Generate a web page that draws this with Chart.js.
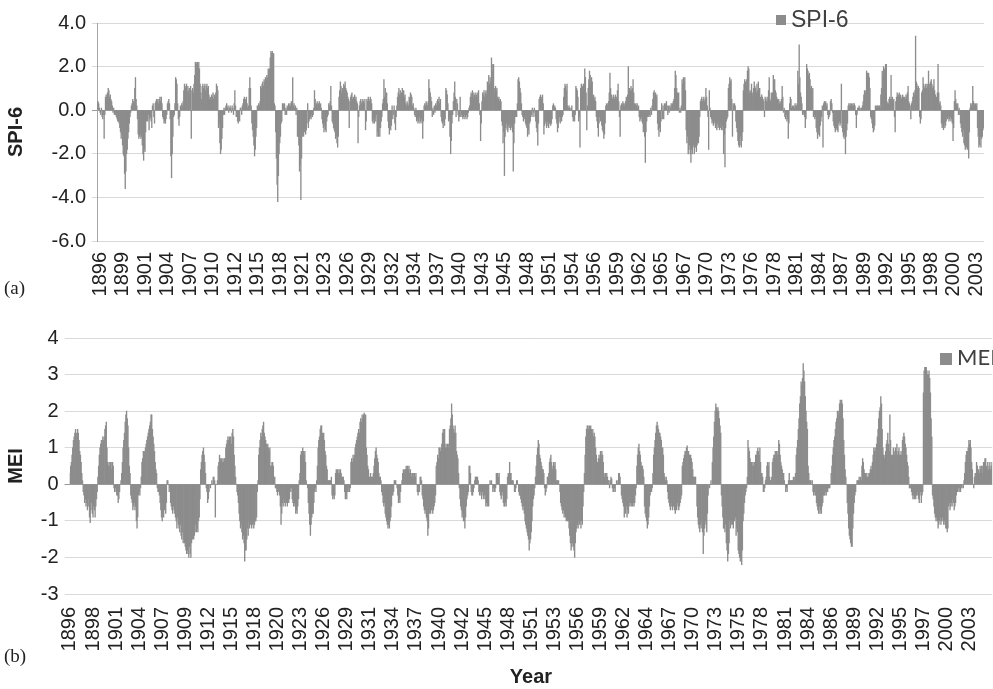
<!DOCTYPE html>
<html>
<head>
<meta charset="utf-8">
<script src="https://cdn.jsdelivr.net/npm/chart.js@4.4.1/dist/chart.umd.min.js"></script>
<style>
body { margin: 0; background: #fff; }
#wrap { position: relative; width: 993px; height: 689px; overflow: hidden; background: #fff; }
canvas { position: absolute; left: 0; }
.sq { position: absolute; background: #8c8c8c; }
.lg { position: absolute; line-height: 1; color: #404040; white-space: nowrap; font-family: "Liberation Sans", Arial, sans-serif; }
.pl { position: absolute; font-family: "Liberation Serif", "Times New Roman", serif; font-size: 19px; line-height: 1; color: #222; }
</style>
</head>
<body>
<div id="wrap">
  <canvas id="spiChart" width="993" height="300" style="top:0"></canvas>
  <canvas id="meiChart" width="993" height="389" style="top:300px"></canvas>
  <div class="sq" style="left:776px;top:15px;width:10px;height:10px"></div>
  <div class="lg" style="left:791px;top:8px;font-size:23px">SPI-6</div>
  <div class="sq" style="left:940px;top:353px;width:12px;height:12px"></div>
  <div class="lg" style="left:957px;top:346px;font-size:22px;font-family:Lato,sans-serif">MEI</div>
  <div class="pl" style="left:4px;top:278px">(a)</div>
  <div class="pl" style="left:4px;top:646px">(b)</div>
</div>
<script>
var spiTickYears = [1896, 1899, 1901, 1904, 1907, 1910, 1912, 1915, 1918, 1921, 1923, 1926, 1929, 1932, 1934, 1937, 1940, 1943, 1945, 1948,
    1951, 1954, 1956, 1959, 1962, 1965, 1967, 1970, 1973, 1976, 1978, 1981, 1984, 1987, 1989, 1992, 1995, 1998, 2000, 2003];
var meiTickYears = [1896, 1898, 1901, 1904, 1907, 1909, 1912, 1915, 1918, 1920, 1923, 1926, 1929, 1931, 1934, 1937, 1940, 1942, 1945, 1948,
    1951, 1953, 1956, 1959, 1962, 1964, 1967, 1970, 1973, 1975, 1978, 1981, 1984, 1986, 1989, 1992, 1995, 1997, 2000, 2003];

// SPI-6 by year, Jun 1896 - Dec 2004
var spiStart = [1896, 5];
var spiRows = [
    [0.4, 0.4, 0.3, 0.1, -0.1, -0.2, 0.1],
    [-0.3, -0.4, -0.2, -1.3, -0.2, 0.6, 0.7, 0.6, 0.8, 1.0, 0.9, 0.6],
    [0.7, 0.5, 0.4, 0.2, -0.1, 0.1, -0.2, -0.1, -0.2, -0.3, -0.4, -0.5],
    [-0.5, -0.6, -0.8, -1.0, -1.3, -1.1, -1.6, -2.0, -2.1, -2.9, -3.6, -2.8],
    [-2.0, -1.8, -1.3, -1.0, -0.6, -0.3, -0.1, 0.2, 0.3, 0.5, 0.4, 0.3],
    [1.0, 1.5, 0.5, 0.2, -0.4, -1.1, -1.3, -1.2, -1.1, -1.3, -1.2, -1.6],
    [-2.0, -2.3, -1.8, -1.9, -1.0, -0.5, -0.3, -0.5, -0.2, -0.9, -0.4, -0.3],
    [-0.5, -0.8, 0.2, 0.3, -0.3, -0.6, 0.3, 0.4, 0.5, 0.4, 0.5, 0.3],
    [0.5, 0.6, 0.4, 0.6, 0.3, -0.3, -0.4, -0.6, -0.5, -0.6, -0.4, -0.2],
    [0.3, 0.4, 0.5, 0.3, -0.4, -2.1, -3.1, -2.0, -1.2, -0.3, -0.2, 0.3],
    [1.5, 1.4, 1.2, 0.3, -0.4, -0.7, -0.3, 0.2, 0.1, 0.3, 0.2, 0.4],
    [0.9, 1.2, 1.1, 1.0, 1.2, 0.8, 1.1, 0.9, 1.0, 0.7, 1.1, -1.3],
    [0.9, 1.0, 0.8, 1.2, 1.6, 2.2, 2.2, 2.1, 2.2, 2.0, 2.2, 1.9],
    [1.2, 0.8, 0.5, 1.1, 1.2, 1.0, 1.1, 1.2, 0.9, 1.1, 1.2, 1.0],
    [1.1, 0.7, 0.5, 0.6, 0.4, 0.7, 0.6, 0.8, 0.5, 0.7, 0.6, 0.8],
    [1.2, 1.1, 0.9, -0.8, -0.6, -1.5, -2.0, -1.8, -1.3, -0.8, -0.2, 0.1],
    [-0.2, 0.1, 0.2, 0.3, 0.1, 0.2, -0.1, 0.1, 0.2, 0.1, -0.1, 0.2],
    [0.1, -0.2, 0.3, 0.9, 0.2, -0.3, -0.3, -0.5, -0.6, -0.4, -0.5, 0.1],
    [0.1, -0.2, 0.2, 0.3, 0.5, 0.6, 0.4, 0.5, 0.6, 0.3, 0.1, 0.2],
    [1.0, 1.5, 1.0, 0.2, -0.6, -0.9, -1.2, -1.6, -2.1, -1.8, -1.2, -0.8],
    [0.2, 0.1, 0.3, 0.2, 0.4, 1.1, 1.0, 1.2, 1.3, 1.1, 1.4, 1.3],
    [1.5, 1.4, 1.6, 1.5, 1.9, 1.8, 1.9, 2.4, 2.7, 2.6, 2.7, 2.5],
    [2.6, 0.3, 0.2, -1.0, -2.2, -3.4, -4.2, -3.0, -2.0, -1.5, -1.2, -0.6],
    [-0.5, 0.3, 0.3, 0.2, 0.3, -0.2, 0.1, -0.2, 0.2, 0.1, 0.3, 0.2],
    [0.3, 0.2, 0.4, 0.3, 1.5, 0.2, 0.3, 0.1, 0.2, -0.2, 0.1, -1.2],
    [-1.2, -1.6, -2.8, -2.5, -4.1, -2.2, -1.2, -0.9, -1.2, -1.0, -0.8, -1.1],
    [-0.9, -0.6, 0.3, -0.8, -0.5, -0.4, -0.3, -0.4, -0.2, -0.3, -0.2, 0.1],
    [0.9, 0.5, 0.2, 0.3, 0.4, 0.2, 0.3, 0.4, 0.2, 0.3, 0.1, -0.4],
    [-0.6, -0.8, -1.0, -0.7, -0.9, -1.0, -0.5, -0.3, -0.2, 0.3, 0.2, 0.4],
    [1.1, 0.2, -0.5, -0.6, -0.8, -0.9, -1.0, -1.3, -1.2, -1.5, -1.7, -1.2],
    [0.6, 0.9, 1.3, 1.1, 0.8, 1.0, 0.9, 1.2, 1.1, 1.3, 1.0, 0.9],
    [0.8, 0.6, 0.5, -0.8, 0.4, 0.6, 0.7, 0.8, 0.5, 0.6, 0.5, 0.7],
    [0.5, 0.6, 0.4, 0.3, -1.5, -0.3, 0.2, 0.4, 0.5, 0.3, 0.4, 0.5],
    [0.4, 0.3, 0.5, -0.9, -0.5, 0.5, 0.4, 0.6, 0.5, 0.4, 0.6, 0.5],
    [0.3, -0.5, -0.6, -0.4, -0.6, -0.3, -0.5, -0.2, -1.2, -1.0, -1.2, -0.8],
    [-1.2, -0.8, -0.5, -0.3, 0.3, 0.5, 1.4, 0.6, 1.0, 0.5, 0.8, 0.3],
    [-0.5, -0.8, -1.1, -0.7, -0.9, -0.7, 0.2, -0.4, -0.2, 0.2, -0.6, -0.9],
    [-0.3, 0.2, 0.6, 0.8, 1.0, 0.7, 0.9, 0.6, 0.8, 1.0, 0.7, 0.9],
    [0.6, 0.7, 0.3, 0.2, 0.4, 0.3, 0.2, 0.6, 0.5, 0.8, 0.7, 0.6],
    [0.2, 0.3, 0.1, -0.2, -0.3, 0.1, -0.5, -0.4, -0.6, -0.5, -0.3, -0.6],
    [-0.5, -0.4, -0.6, -1.3, -0.5, 0.2, 0.3, 0.2, 0.4, 0.3, 0.2, 0.4],
    [1.4, 1.0, 0.8, 0.6, 0.4, -0.3, 0.1, -0.2, 0.2, -0.1, 0.3, 0.2],
    [0.4, 0.5, 0.4, 0.6, 0.3, 0.5, -0.3, -0.5, -0.6, -0.8, -0.5, -0.7],
    [-0.4, 1.0, 0.9, 0.7, 0.3, -0.5, -0.4, -1.2, -2.0, -1.4, -0.6, -0.2],
    [0.4, 0.8, 1.3, 0.6, -0.3, 0.5, 0.3, -0.2, -0.5, -0.3, 0.6, -0.3],
    [-0.2, -0.3, -0.4, -0.3, -0.2, -0.4, -0.3, -0.2, -0.4, -0.3, -0.1, 0.1],
    [0.2, 0.6, 0.8, 0.7, 0.9, 0.8, 0.6, 0.7, 0.8, 0.6, 0.7, 0.8],
    [0.6, 0.9, 0.3, -0.2, -1.4, -0.6, 0.4, 0.8, 0.7, 0.9, 0.6, 0.8],
    [0.9, 0.7, 1.3, 1.1, 1.6, 1.2, 1.5, 1.3, 2.4, 2.1, 1.8, 2.1],
    [1.0, 0.8, 1.1, 0.9, 1.0, 0.6, 0.5, 0.6, 0.4, 0.5, 0.4, -0.5],
    [-0.7, -1.5, -1.0, -3.0, -1.2, -0.8, -0.6, -0.9, -1.0, -0.7, -0.8, -0.6],
    [-0.9, -0.7, -0.8, -1.0, -2.8, -1.5, -0.6, -0.3, -0.2, -0.3, 0.3, 1.4],
    [1.5, 1.3, 1.0, 0.8, 0.3, -0.2, -0.3, -0.5, -0.4, -0.3, -0.6, -0.7],
    [-0.8, -1.2, -0.9, -1.1, -0.6, -0.5, -0.3, -0.2, 0.1, -0.3, -0.1, 0.1],
    [-0.3, -0.5, -0.8, -1.0, -1.6, -0.6, 0.5, 0.6, 0.7, 0.5, 0.6, 0.7],
    [0.3, -1.1, -0.7, -0.5, -0.6, -0.8, -0.5, -0.7, -0.8, -0.6, -0.5, -0.7],
    [-0.6, -0.4, 0.2, 0.3, 0.1, 0.2, 0.1, -0.4, -0.6, -1.0, -0.8, -0.5],
    [-0.3, -0.6, -0.4, -0.5, -0.3, -0.2, 0.6, 1.0, 1.2, 1.1, 0.9, 1.2],
    [0.2, 0.1, 0.2, 0.1, 0.0, 0.1, 0.2, -0.3, -0.5, -0.4, -0.5, -0.2],
    [1.1, 1.0, 0.9, 0.6, -0.5, -0.3, -1.7, 1.0, 1.2, 1.0, 1.1, 1.2],
    [1.2, 1.9, 1.5, 0.8, -0.9, 0.2, 1.0, 1.4, 1.8, 1.6, 1.2, 1.5],
    [1.3, 0.6, 0.7, 0.5, 0.6, 0.4, -0.3, -0.5, -0.8, -1.2, -0.6, -0.3],
    [-0.5, -0.4, -0.7, -0.9, -1.0, -1.3, -1.1, -0.6, 0.2, 0.3, 0.2, 0.3],
    [0.4, 0.8, 1.7, 1.0, 0.7, 0.6, 0.5, 0.7, 0.6, 0.5, 0.7, 0.5],
    [0.6, 0.9, 1.2, 0.4, -0.3, -1.2, 0.2, 0.3, 0.2, 0.4, 0.3, 0.2],
    [0.3, 0.4, 0.6, 0.5, 0.7, 2.0, 0.8, 1.0, 0.9, 1.1, 0.9, 1.0],
    [1.4, 0.8, 0.3, 0.2, 0.3, 0.2, 0.3, 0.1, 0.2, -0.3, -0.5, -0.4],
    [-0.3, -0.5, -0.6, -1.0, -0.8, -1.2, -2.4, -1.0, -0.5, -0.3, -0.2, -0.3],
    [-0.2, -0.3, 0.1, -0.2, 0.2, 0.5, 0.8, 0.9, 0.7, 0.8, 0.6, 0.7],
    [-0.6, -0.9, -1.2, -0.8, -1.0, -0.5, 0.3, -0.4, 0.2, -0.4, 0.3, 0.2],
    [0.3, 0.4, 0.2, -0.2, 0.2, -0.1, 0.2, 0.1, 0.3, 0.2, 0.3, 0.4],
    [0.5, 1.0, 1.8, 1.6, 1.0, 0.8, 0.7, 0.8, -0.1, 0.1, -0.1, 0.2],
    [1.4, 1.2, 1.5, 1.3, 1.5, 0.9, -0.9, -1.5, -1.2, -2.0, -1.8, -1.6],
    [-2.0, -2.4, -1.8, -2.0, -1.7, -1.6, -2.0, -1.5, -1.7, -1.9, -1.6, -1.5],
    [-1.5, -1.2, -0.3, 0.4, 0.5, 0.6, 0.4, 0.5, 0.6, 0.4, 0.5, 1.0],
    [0.6, 0.2, -0.3, -1.8, 0.9, 0.1, -0.3, -0.4, -0.6, -0.5, -0.7, -0.6],
    [-0.5, -0.8, -0.7, -0.9, -0.6, -0.8, -0.7, -0.9, -0.8, -0.6, -0.9, -0.7],
    [-0.9, -2.0, -1.1, -2.6, -0.8, -0.5, -0.4, -0.3, 1.0, 1.2, 1.5, 1.3],
    [1.4, 0.5, -1.2, 0.3, 0.2, 0.3, 0.2, -0.5, -0.8, -1.0, -1.4, -1.6],
    [-1.7, -1.6, -1.2, -1.7, -1.4, -1.0, 0.9, 1.2, 1.4, 1.3, 1.1, 1.4],
    [1.8, 2.0, 1.9, 0.8, 0.9, 0.8, 1.2, 0.8, 0.6, 1.0, 1.3, 1.1],
    [1.0, 0.8, 1.2, 0.9, 1.3, 0.9, 1.0, 0.6, 0.5, 0.7, 0.6, 0.5],
    [0.4, -0.3, 0.6, 0.5, 0.4, 0.6, 0.4, 0.9, 1.5, 0.5, 0.4, 0.8],
    [0.6, 0.8, 1.6, 1.3, 1.4, 0.9, 0.8, 0.6, 0.5, 0.4, 0.5, 0.3],
    [0.4, 0.3, 0.5, 1.1, 0.6, -0.1, 0.1, -0.3, -0.4, -0.2, -0.5, -0.4],
    [-1.3, -0.6, 0.3, 0.6, 0.5, 0.1, 0.2, 0.1, 0.2, 0.1, 0.3, 0.2],
    [0.2, 0.3, 1.8, 1.2, 3.0, 1.5, 0.8, 0.6, 0.3, -0.2, -0.1, -0.2],
    [-0.3, -0.8, -0.4, 2.1, 1.9, 1.8, 1.6, 1.7, 1.4, 1.0, 1.1, 0.9],
    [1.0, -0.3, -0.2, -0.4, -0.3, -0.8, -1.0, -1.3, -1.1, -0.9, -1.2, -0.7],
    [-0.5, -0.3, 0.2, -1.7, 0.3, 0.4, 0.3, 0.4, 0.2, 0.3, -0.2, -0.4],
    [-0.3, -0.2, 0.4, 0.5, 0.3, -0.1, -0.5, -0.7, -0.8, -1.0, -0.9, -0.8],
    [-0.9, -1.0, -0.6, -0.5, -0.7, -0.6, 1.2, -0.8, -1.0, -1.2, -1.3, -1.1],
    [-2.0, -1.2, -0.9, -0.6, 0.2, 0.3, 0.2, 0.3, 0.2, 0.3, 0.2, 0.3],
    [0.2, 0.3, 0.2, -0.2, -0.8, -0.2, 0.1, 0.1, 0.2, 0.1, 0.0, 0.1],
    [0.1, 0.2, 0.4, 0.7, 0.9, 0.8, 0.9, 1.8, 1.7, 1.6, 1.7, 1.5],
    [1.0, -0.3, -0.4, -0.6, -0.8, -1.0, -0.9, -0.7, 0.2, 0.1, 0.2, 0.2],
    [0.1, 0.2, 0.2, 0.1, 0.7, 1.0, 1.8, 1.6, 2.0, 1.9, 1.7, 2.1],
    [2.1, 0.4, 0.3, 0.3, 0.5, 0.6, 0.5, 1.6, 0.5, 0.6, 0.4, 0.5],
    [-0.3, -1.0, 0.4, 0.6, 0.8, 0.6, 0.7, 0.8, 0.6, 0.7, 0.5, 0.6],
    [0.7, 0.6, 0.5, 0.6, 0.5, 0.7, 0.6, 0.8, 1.1, 0.4, 0.3, 0.2],
    [-0.4, 0.3, 0.4, 0.6, 0.8, 0.7, 0.9, 3.4, 1.3, 1.2, 1.0, 1.1],
    [1.0, -0.3, -0.6, -0.4, 0.8, 0.9, 1.5, 1.2, 1.0, 1.1, 1.2, 1.0],
    [1.2, 1.1, 1.8, 1.2, 1.0, 1.3, 1.4, 1.2, 1.0, 1.1, 1.4, 0.9],
    [0.7, 0.5, 0.6, 0.8, 2.1, 0.8, 0.3, 0.4, 0.2, -0.6, -0.8, -0.7],
    [-0.9, -0.6, -0.8, -0.7, -0.5, -0.3, -0.4, -0.3, -0.5, -0.4, -0.3, -0.5],
    [-0.4, -0.6, -1.4, -0.8, 0.4, 0.9, 0.5, 0.3, 0.2, 0.3, -0.2, 0.1],
    [-0.2, -0.6, -0.8, -1.0, -1.2, -0.9, -1.5, -1.6, -1.8, -1.5, -1.7, -1.8],
    [-1.6, -2.2, -1.0, 0.1, 0.3, 0.2, 0.3, 1.1, 0.4, 0.3, 0.2, 0.3],
    [0.2, 0.3, -0.8, -1.2, -1.7, -1.6, -1.2, -1.7, -1.3, -1.2, -0.9, -0.8]
];

// MEI by year, Jan 1896 - Dec 2005
var meiStart = [1896, 0];
var meiRows = [
    [0.3, 0.5, 0.6, 0.8, 1.0, 1.2, 1.3, 1.4, 1.5, 1.4, 1.3, 1.5],
    [1.4, 1.2, 0.9, 0.8, 0.6, 0.3, 0.1, -0.2, -0.3, -0.5, -0.4, -0.6],
    [-0.5, -0.7, -0.4, -0.6, -0.9, -1.05, -0.7, -0.5, -0.8, -0.9, -0.6, -0.7],
    [-0.9, -0.6, -0.4, -0.2, 0.2, 0.5, 0.8, 1.0, 1.1, 1.2, 1.1, 1.3],
    [1.2, 1.3, 1.5, 1.6, 1.7, 1.0, 0.6, 0.5, 0.6, 0.5, 0.6, 0.4],
    [0.6, 0.6, 0.5, -0.1, -0.2, -0.1, -0.2, -0.3, -0.3, -0.5, -0.4, -0.2],
    [0.0, 0.1, 0.3, 0.6, 1.0, 1.2, 1.4, 1.7, 1.9, 2.0, 1.8, 1.6],
    [1.0, 0.5, 0.3, -0.3, -0.4, -0.5, -0.7, -0.6, -0.5, -0.7, -0.6, -1.0],
    [-1.2, -0.9, -0.3, -0.2, -0.3, -0.1, 0.2, 0.6, 0.7, 0.9, 0.8, 0.9],
    [1.0, 1.1, 1.2, 1.3, 1.4, 1.5, 1.6, 1.7, 1.9, 1.9, 1.5, 1.3],
    [1.1, 0.9, 0.6, 0.4, 0.3, -0.1, -0.2, -0.2, -0.3, -0.5, -0.7, -0.9],
    [-1.0, -0.8, -0.9, -0.7, -0.6, -0.8, -0.5, 0.1, 0.1, 0.0, -0.2, -0.1],
    [-0.5, -0.6, -0.7, -0.8, -0.6, -0.7, -0.8, -0.9, -1.0, -1.2, -0.9, -1.1],
    [-1.2, -1.3, -1.1, -1.4, -1.5, -1.3, -1.6, -1.5, -1.6, -1.7, -1.8, -1.9],
    [-1.8, -1.9, -2.0, -1.7, -1.9, -2.0, -1.6, -1.5, -1.3, -1.5, -1.4, -1.3],
    [-1.1, -1.3, -1.2, -1.3, -1.0, -0.9, -0.4, 0.4, 0.6, 0.8, 0.9, 1.0],
    [0.8, 0.6, 0.3, -0.1, -0.2, -0.5, -0.4, -0.2, 0.0, -0.1, 0.0, 0.1],
    [0.0, 0.2, 0.2, 0.1, -0.9, 0.0, 0.0, 0.1, 0.5, 0.6, 0.8, 0.7],
    [0.6, 0.7, 0.6, 0.7, 0.6, 0.7, 0.7, 1.0, 1.1, 1.2, 1.3, 1.2],
    [1.3, 1.2, 1.3, 1.1, 1.4, 1.5, 1.3, 0.8, 0.5, 0.2, 0.0, -0.2],
    [-0.3, -0.5, -0.8, -1.0, -1.2, -1.1, -1.3, -1.5, -1.4, -1.6, -2.1, -1.8],
    [-1.8, -1.5, -1.2, -1.4, -1.0, -1.2, -1.1, -1.0, -1.2, -1.1, -1.0, -1.2],
    [-1.1, -1.0, -1.0, -0.9, -0.2, 0.1, 0.8, 1.0, 1.2, 1.4, 1.3, 1.5],
    [1.6, 1.7, 1.4, 1.3, 1.2, 1.1, 1.0, 1.1, 1.0, 0.9, 1.0, 0.5],
    [0.5, 0.6, 0.6, 0.5, 0.2, 0.2, -0.1, -0.1, -0.2, -0.3, -0.2, -0.1],
    [-0.3, -0.6, -1.1, -0.8, -0.5, -0.6, -0.4, -0.5, -0.6, -0.4, -0.5, -0.6],
    [-0.4, -0.5, -0.4, -0.1, -0.2, -0.1, -0.4, -0.5, -0.6, -0.5, -0.6, -0.8],
    [-0.7, -0.8, -0.6, -0.4, 0.1, 0.3, 0.8, 0.9, 0.8, 1.0, 0.9, 0.8],
    [0.9, 0.6, 0.1, 0.0, -0.1, -0.5, -0.8, -1.1, -1.4, -1.1, -0.9, -0.8],
    [-0.8, -0.5, -0.2, -0.1, -0.2, 0.1, 0.5, 1.0, 1.2, 1.3, 1.5, 1.6],
    [1.6, 1.4, 1.3, 1.4, 1.2, 0.9, 0.8, 0.5, 0.4, 0.1, 0.1, 0.1],
    [0.1, 0.1, 0.2, -0.3, -0.4, -0.3, -0.4, -0.3, 0.3, 0.4, 0.3, 0.4],
    [0.3, 0.4, 0.3, 0.4, 0.3, 0.2, 0.2, 0.2, 0.1, -0.2, -0.4, -0.3],
    [-0.4, -0.2, -0.2, -0.1, -0.2, -0.1, 0.6, 0.7, 0.6, 0.8, 0.7, 0.8],
    [1.0, 1.1, 1.2, 1.3, 1.4, 1.5, 1.4, 1.7, 1.8, 1.7, 1.9, 1.8],
    [1.9, 1.95, 1.8, 1.9, 1.0, 0.8, 0.5, 0.4, 0.2, 0.2, 0.3, 0.2],
    [0.2, 0.2, 0.3, 0.5, 0.7, 0.9, 1.0, 0.8, 0.7, 0.6, 0.3, 0.2],
    [0.2, 0.1, -0.2, -0.3, -0.5, -0.6, -0.5, -0.8, -0.9, -1.0, -1.1, -1.2],
    [-1.1, -1.2, -1.0, -0.9, -0.6, -0.3, -0.3, -0.2, 0.1, 0.1, 0.1, 0.0],
    [-0.1, -0.3, -0.5, -0.4, -0.5, -0.2, 0.0, 0.1, 0.3, 0.4, 0.3, 0.4],
    [0.4, 0.5, 0.4, 0.5, 0.4, 0.5, 0.3, 0.4, 0.3, 0.2, 0.3, 0.3],
    [0.2, 0.3, 0.2, 0.3, 0.0, -0.2, -0.3, -0.2, -0.2, 0.2, 0.2, 0.1],
    [-0.3, -0.4, -0.6, -0.7, -0.8, -0.7, -0.9, -1.0, -1.4, -1.2, -0.8, -0.7],
    [-0.8, -0.7, -0.6, -0.8, -0.7, -0.6, -0.5, -0.3, 0.5, 0.6, 0.8, 0.7],
    [1.0, 1.0, 0.9, 1.0, 1.1, 1.4, 1.5, 1.4, 1.5, 1.0, 1.1, 1.0],
    [1.1, 1.0, 1.1, 1.5, 1.6, 1.8, 2.2, 1.9, 1.6, 1.5, 1.4, 1.6],
    [1.4, 0.9, 0.8, 0.7, 0.3, -0.1, -0.4, -0.6, -0.7, -0.9, -0.8, -1.0],
    [-1.0, -1.2, -0.9, -0.6, -0.4, -0.3, -0.2, 0.5, 0.5, 0.3, -0.2, -0.3],
    [-0.3, -0.2, -0.1, 0.1, 0.2, 0.2, 0.2, 0.2, 0.1, -0.2, -0.3, -0.2],
    [-0.3, -0.4, -0.2, -0.3, -0.4, -0.3, -0.4, -0.6, -0.5, -0.6, -0.5, -0.6],
    [0.0, 0.1, 0.0, 0.1, 0.0, -0.2, -0.1, -0.2, -0.2, -0.1, 0.3, 0.3],
    [0.3, 0.2, 0.3, -0.2, -0.3, -0.4, -0.3, -0.2, -0.5, -0.6, -0.6, -0.5],
    [-0.6, -0.4, 0.2, 0.3, 0.3, 0.6, 0.3, 0.3, 0.1, 0.1, 0.1, 0.0],
    [-0.2, -0.2, -0.1, 0.1, 0.1, 0.0, -0.2, -0.3, -0.3, -0.4, -0.5, -0.6],
    [-0.7, -0.6, -0.8, -1.0, -1.1, -1.2, -1.3, -1.4, -1.5, -1.8, -1.6, -1.5],
    [-1.3, -1.0, -0.6, -0.4, -0.3, -0.1, 0.2, 0.5, 0.8, 1.0, 1.2, 1.1],
    [0.8, 0.7, 0.6, 0.5, 0.4, 0.4, 0.3, -0.1, -0.3, -0.2, -0.1, 0.2],
    [0.2, 0.3, 0.6, 0.7, 0.8, 0.6, 0.4, 0.5, 0.6, 0.5, 0.6, 0.4],
    [0.1, 0.1, 0.1, 0.1, 0.0, -0.2, -0.5, -0.6, -0.7, -0.8, -0.7, -0.9],
    [-0.8, -0.9, -1.0, -0.9, -1.0, -1.0, -1.2, -1.4, -1.6, -1.8, -1.7, -1.6],
    [-1.7, -1.8, -2.0, -1.6, -1.3, -1.2, -1.1, -1.2, -1.0, -1.1, -1.0, -1.2],
    [-1.0, -1.1, -0.6, -0.2, 0.3, 0.8, 1.3, 1.5, 1.6, 1.6, 1.5, 1.6],
    [1.5, 1.6, 1.5, 1.4, 1.5, 1.3, 1.4, 1.3, 1.0, 0.8, 0.5, 0.6],
    [0.7, 0.8, 0.7, 0.9, 0.8, 0.9, 0.8, 0.6, 0.3, 0.2, 0.3, 0.2],
    [0.3, 0.2, 0.1, 0.1, -0.1, 0.1, 0.2, 0.15, -0.1, -0.2, -0.2, -0.1],
    [-0.2, 0.0, 0.1, 0.0, 0.1, 0.3, 0.3, 0.2, 0.0, -0.3, -0.4, -0.5],
    [-0.6, -0.9, -0.7, -0.8, -0.6, -0.9, -0.7, -0.8, -0.5, -0.6, -0.5, -0.6],
    [-0.5, -0.6, -0.5, -0.6, -0.5, -0.3, -0.1, 0.5, 0.8, 1.0, 1.1, 0.9],
    [0.8, 0.6, 0.5, 0.5, 0.4, 0.2, -0.6, -0.8, -0.9, -1.0, -1.2, -1.1],
    [-0.9, -0.6, -0.3, -0.2, -0.2, -0.1, 0.3, 0.8, 1.0, 1.2, 1.4, 1.6],
    [1.7, 1.6, 1.5, 1.4, 1.4, 1.3, 1.2, 1.0, 1.0, 0.8, 0.3, 0.2],
    [0.1, 0.2, 0.1, -0.2, -0.4, -0.5, -0.6, -0.7, -0.5, -0.6, -0.7, -0.6],
    [-0.6, -0.7, -0.8, -0.6, -0.7, -0.5, -0.6, -0.7, -0.6, -0.5, -0.4, -0.3],
    [0.5, 0.6, 0.7, 0.8, 0.9, 0.9, 1.0, 1.05, 0.9, 0.9, 0.8, 0.8],
    [0.8, 0.7, 0.6, 0.4, 0.2, 0.2, 0.2, 0.2, 0.0, -0.6, -0.9, -1.1],
    [-1.2, -1.3, -1.1, -1.2, -1.0, -1.3, -1.9, -1.4, -1.2, -1.0, -1.1, -1.3],
    [-0.8, -0.3, 0.0, -0.1, 0.0, 0.1, 0.0, 0.6, 1.0, 1.3, 1.7, 2.0],
    [2.2, 2.1, 2.0, 2.1, 2.0, 1.8, 1.6, 1.4, -0.3, -0.6, -0.9, -1.2],
    [-1.2, -1.3, -1.1, -1.6, -1.8, -2.1, -1.9, -1.6, -1.0, -1.2, -1.1, -1.0],
    [-1.1, -1.2, -1.0, -1.0, -0.9, -1.4, -1.2, -1.3, -1.8, -1.9, -2.0, -2.1],
    [-2.0, -2.2, -1.8, -1.0, -0.8, -0.5, -0.3, -0.2, -0.1, 0.2, 1.2, 1.0],
    [0.9, 0.7, 0.6, 0.6, 0.5, 0.6, 0.5, 0.6, 0.5, 0.8, 0.8, 0.9],
    [1.0, 0.9, 0.8, 1.0, 0.6, 0.3, 0.3, 0.2, -0.2, -0.2, -0.1, 0.1],
    [0.2, 0.5, 0.6, 0.5, 0.6, 0.2, 0.1, 0.1, 0.2, 0.6, 0.7, 0.8],
    [0.8, 0.9, 0.7, 0.9, 0.8, 0.9, 1.2, 1.1, 0.8, 0.6, 0.5, 0.4],
    [0.3, 0.3, 0.1, 0.0, -0.2, -0.1, -0.2, 0.0, 0.1, 0.3, 0.1, 0.1],
    [0.1, 0.1, 0.1, 0.2, 0.1, 0.2, 0.3, 0.8, 1.0, 1.2, 1.5, 1.8],
    [2.2, 2.4, 2.8, 2.7, 2.9, 3.3, 3.1, 2.8, 2.4, 2.0, 1.7, 1.5],
    [0.5, 0.3, 0.1, 0.1, 0.1, 0.0, 0.1, -0.2, -0.3, -0.2, -0.3, -0.3],
    [-0.5, -0.6, -0.7, -0.8, -0.6, -0.8, -0.7, -0.8, -0.6, -0.5, -0.3, -0.3],
    [-0.3, -0.2, -0.3, -0.1, -0.2, -0.1, -0.1, -0.1, 0.0, 0.3, 0.5, 0.8],
    [1.0, 1.2, 1.3, 1.5, 1.7, 1.8, 2.0, 1.9, 2.0, 2.2, 2.3, 2.2],
    [2.3, 2.2, 1.8, 1.2, 0.8, 0.4, 0.2, 0.0, -0.5, -0.8, -1.2, -1.4],
    [-1.5, -1.6, -1.7, -1.7, -1.2, -0.8, -0.5, -0.3, -0.2, 0.0, 0.1, 0.1],
    [0.1, 0.2, 0.1, 0.2, 0.1, 0.5, 0.7, 0.6, 0.4, 0.3, 0.3, 0.2],
    [0.3, 0.2, 0.2, 0.3, 0.3, 0.4, 0.5, 0.4, 0.6, 0.8, 1.0, 0.9],
    [1.0, 0.9, 1.1, 1.3, 1.5, 1.8, 2.0, 2.1, 2.4, 2.2, 1.5, 1.0],
    [0.8, 0.7, 0.8, 0.9, 1.1, 1.2, 1.4, 1.1, 0.9, 1.9, 1.2, 0.8],
    [0.7, 0.8, 1.0, 0.9, 0.8, 1.0, 0.9, 1.1, 0.8, 0.9, 1.0, 0.8],
    [0.8, 0.9, 0.8, 1.2, 1.3, 1.4, 1.3, 1.1, 1.0, 0.8, 0.6, 0.5],
    [0.2, -0.1, -0.1, -0.1, -0.2, -0.3, -0.4, -0.3, -0.4, -0.3, -0.4, -0.3],
    [-0.3, -0.2, -0.4, -0.5, -0.3, -0.2, -0.5, -0.3, -0.2, 2.5, 3.1, 3.2],
    [3.2, 3.2, 3.1, 3.0, 3.0, 3.1, 2.9, 2.5, 1.8, 1.3, -0.3, -0.4],
    [-0.6, -0.8, -0.9, -1.0, -0.9, -1.0, -1.2, -1.1, -1.0, -0.9, -1.1, -1.0],
    [-0.9, -1.0, -1.1, -1.0, -1.1, -1.2, -1.2, -1.3, -1.2, -0.6, -0.5, -0.7],
    [-0.6, -0.5, -0.6, -0.4, -0.5, -0.7, -0.6, -0.5, -0.3, -0.2, -0.2, -0.1],
    [-0.2, -0.1, -0.2, -0.1, -0.1, 0.0, -0.1, 0.1, 0.3, 0.6, 0.8, 0.9],
    [0.9, 1.0, 1.2, 1.1, 1.2, 1.0, 0.6, 0.4, 0.0, -0.1, 0.2, 0.3],
    [0.3, 0.6, 0.5, 0.3, 0.4, 0.3, 0.5, 0.4, 0.5, 0.3, 0.5, 0.6],
    [0.6, 0.7, 0.7, 0.5, 0.4, 0.6, 0.4, 0.5, 0.6, 0.4, 0.5, 0.6]
];

var spiValues = [].concat.apply([], spiRows);
var meiValues = [].concat.apply([], meiRows);

var monthNames = ["Jan", "Feb", "Mar", "Apr", "May", "Jun", "Jul", "Aug", "Sep", "Oct", "Nov", "Dec"];

function monthCategories(start, n) {
    var out = [];
    for (var i = 0; i < n; i++) {
        var m = start[1] + i;
        out.push(monthNames[m % 12] + " " + (start[0] + Math.floor(m / 12)));
    }
    return out;
}

var tickFont = { family: "'Liberation Sans', Arial, sans-serif", size: 20 };
var titleFont = { family: "'Liberation Sans', Arial, sans-serif", size: 20, weight: "bold" };

function buildChart(id, cats, values, ticks, o) {
    var ctx = document.getElementById(id).getContext("2d");
    return new Chart(ctx, {
        type: "bar",
        data: {
            labels: cats,
            datasets: [{
                data: values,
                backgroundColor: "#8c8c8c",
                borderWidth: 0,
                barPercentage: 1,
                categoryPercentage: 1
            }]
        },
        options: {
            responsive: false,
            animation: false,
            devicePixelRatio: 1,
            layout: { padding: o.padding },
            plugins: { legend: { display: false }, tooltip: { enabled: false } },
            scales: {
                x: {
                    grid: { display: false, drawTicks: false },
                    border: { display: false },
                    ticks: {
                        autoSkip: false,
                        maxRotation: 90,
                        minRotation: 90,
                        padding: o.labelPad,
                        labelOffset: o.labelOffset,
                        color: "#222",
                        font: tickFont,
                        callback: function (v, i) { return i % 33 === 0 ? String(ticks[i / 33]) : null; }
                    },
                    title: o.xTitle ? { display: true, text: o.xTitle, font: titleFont, color: "#222", padding: { top: 0, bottom: 0 } } : { display: false },
                    afterFit: function (s) {
                        // keep the plot edges where the figure has them
                        s.height = o.xHeight;
                        s.paddingLeft = 0;
                        s.paddingRight = 0;
                    }
                },
                y: {
                    min: o.min,
                    max: o.max,
                    ticks: {
                        stepSize: o.step,
                        padding: 6,
                        color: "#222",
                        font: tickFont,
                        callback: function (v) { return o.decimals ? v.toFixed(1) : String(v); }
                    },
                    grid: {
                        tickLength: 5,
                        color: function (c) { return c.tick && c.tick.value === 0 ? "#9a9a9a" : "#d9d9d9"; }
                    },
                    border: { display: o.yBorder, color: "#a6a6a6" },
                    title: { display: true, text: o.yTitle, font: titleFont, color: "#222", padding: { top: 4, bottom: 4 } },
                    afterFit: function (s) { s.width = o.yWidth; }
                }
            }
        }
    });
}

buildChart("spiChart", monthCategories(spiStart, spiValues.length), spiValues, spiTickYears, {
    min: -6, max: 4, step: 2, decimals: true, yTitle: "SPI-6",
    yWidth: 97, xHeight: 59, padding: { left: 0, right: 9, top: 23, bottom: 0 },
    labelPad: 11, labelOffset: 3, yBorder: true
});

buildChart("meiChart", monthCategories(meiStart, meiValues.length), meiValues, meiTickYears, {
    min: -3, max: 4, step: 1, decimals: false, yTitle: "MEI", xTitle: "Year",
    yWidth: 69.6, xHeight: 95, padding: { left: 0, right: 0.7, top: 38, bottom: 0 },
    labelPad: 13, labelOffset: 0, yBorder: false
});
</script>
</body>
</html>
